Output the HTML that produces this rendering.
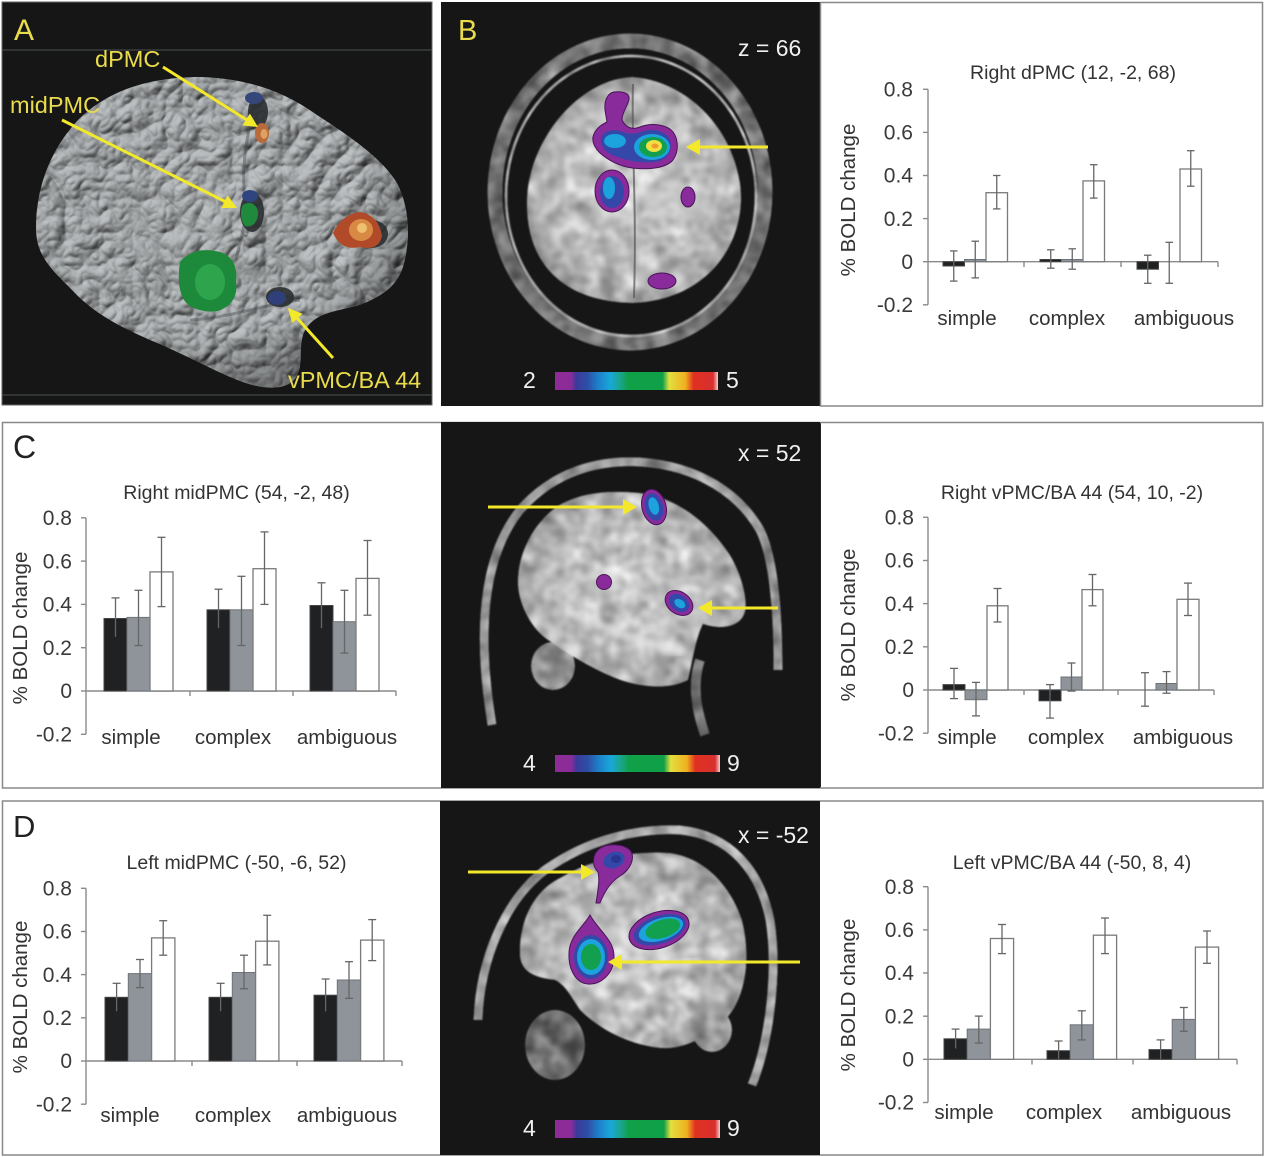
<!DOCTYPE html>
<html><head><meta charset="utf-8"><style>
html,body{margin:0;padding:0;background:#fff;}
svg{display:block;font-family:"Liberation Sans",Arial,sans-serif;}
.ax line{stroke:#8a8a8a;stroke-width:1.4;fill:none}
.eb line{stroke:#666;stroke-width:1.3}
.bk{fill:#1f2122;stroke:#444;stroke-width:1}
.gr{fill:#8e949a;stroke:#6e7378;stroke-width:1}
.wh{fill:#fff;stroke:#7a7a7a;stroke-width:1.3}
.tk{font-size:21px;fill:#3a3a3a;text-anchor:end}
.cat{font-size:20.5px;fill:#333;text-anchor:middle}
.ttl{font-size:19.5px;fill:#333;text-anchor:middle}
.yl{font-size:20.5px;fill:#333;text-anchor:middle}
.yel{fill:#e9dc4c;font-size:23.5px}
.wt{fill:#f0f0f0;font-size:23px}
.arr{stroke:#f4e82a;stroke-width:3;fill:none}
.ah{fill:#f4e82a}
.pu{fill:#8a2b9c;stroke:#4a1458;stroke-width:1}
.bl{fill:#3348a8}
.cy{fill:#1ca2dc}
.gn{fill:#12a04e}
.ye{fill:#f0e040}
.or{fill:#f09a30}
</style></head><body>
<svg width="1267" height="1157" viewBox="0 0 1267 1157">
<defs>
<linearGradient id="cb" x1="0" x2="1" y1="0" y2="0">
<stop offset="0" stop-color="#8e2b96"/><stop offset="0.1" stop-color="#8a2c98"/>
<stop offset="0.13" stop-color="#3b3a9a"/><stop offset="0.2" stop-color="#2d4fa6"/>
<stop offset="0.26" stop-color="#1f7dc8"/><stop offset="0.34" stop-color="#18a8d8"/>
<stop offset="0.4" stop-color="#19a58a"/><stop offset="0.45" stop-color="#0fa048"/>
<stop offset="0.66" stop-color="#0fa048"/><stop offset="0.7" stop-color="#e0e040"/>
<stop offset="0.8" stop-color="#f0b020"/><stop offset="0.85" stop-color="#e03020"/>
<stop offset="0.97" stop-color="#d83030"/><stop offset="1" stop-color="#f0d0d0"/>
</linearGradient>
<radialGradient id="shA" cx="0.45" cy="0.4" r="0.65">
<stop offset="0" stop-color="#fff" stop-opacity="0.08"/>
<stop offset="0.65" stop-color="#000" stop-opacity="0"/>
<stop offset="1" stop-color="#000" stop-opacity="0.4"/>
</radialGradient>
<radialGradient id="mri" cx="0.5" cy="0.5" r="0.6">
<stop offset="0" stop-color="#d0d0d0"/>
<stop offset="0.7" stop-color="#b6b6b6"/>
<stop offset="1" stop-color="#8a8a8a"/>
</radialGradient>
<filter id="fA" color-interpolation-filters="sRGB">
<feTurbulence type="turbulence" baseFrequency="0.03" numOctaves="3" seed="7" result="t"/>
<feColorMatrix in="t" type="matrix" values="0 0 0 0 0  0 0 0 0 0  0 0 0 0 0  1 0 0 0 0" result="h"/>
<feGaussianBlur in="h" stdDeviation="0.8" result="hb"/>
<feDiffuseLighting in="hb" surfaceScale="5" diffuseConstant="1" lighting-color="#c0c4c6" result="d"><feDistantLight azimuth="235" elevation="55"/></feDiffuseLighting>
<feComposite in="d" in2="SourceAlpha" operator="in"/>
</filter>
<filter id="fM" color-interpolation-filters="sRGB">
<feTurbulence type="fractalNoise" baseFrequency="0.055" numOctaves="2" seed="3" result="n"/>
<feColorMatrix in="n" type="matrix" values="0.33 0.33 0.33 0 0  0.33 0.33 0.33 0 0  0.33 0.33 0.33 0 0  0 0 0 0 1" result="g"/>
<feComposite in="SourceGraphic" in2="g" operator="arithmetic" k1="0" k2="1" k3="0.9" k4="-0.45" result="c"/>
<feComposite in="c" in2="SourceAlpha" operator="in" result="cc"/>
<feGaussianBlur in="cc" stdDeviation="0.8"/>
</filter>
<filter id="bl2"><feGaussianBlur stdDeviation="3"/></filter>
</defs>

<!-- ================= PANEL A ================= -->
<rect x="2" y="2" width="430" height="403" fill="#161616" stroke="#666" stroke-width="1"/>
<line x1="2" y1="50" x2="432" y2="50" stroke="#4a5252" stroke-width="1"/>
<line x1="2" y1="395" x2="432" y2="395" stroke="#4a5252" stroke-width="1"/>
<path d="M36,228 C36,185 52,148 78,120 C105,93 145,77 200,77 C240,78 280,88 317,115 C348,135 382,158 397,183 C411,210 410,243 403,267 C397,285 385,295 360,305 C335,312 312,312 303,335 C298,352 305,370 292,382 C278,392 255,388 230,377 C205,366 175,350 150,340 C120,327 92,312 72,290 C50,268 36,255 36,228 Z" fill="#9ea2a4" filter="url(#fA)"/>
<path d="M36,228 C36,185 52,148 78,120 C105,93 145,77 200,77 C240,78 280,88 317,115 C348,135 382,158 397,183 C411,210 410,243 403,267 C397,285 385,295 360,305 C335,312 312,312 303,335 C298,352 305,370 292,382 C278,392 255,388 230,377 C205,366 175,350 150,340 C120,327 92,312 72,290 C50,268 36,255 36,228 Z" fill="url(#shA)"/>
<g fill="none" stroke="#4a4e50" stroke-width="3" opacity="0.45">
<path d="M255,92 C250,130 240,160 245,200 C248,220 240,240 236,260"/>
<path d="M190,320 C230,318 260,305 300,300"/>
</g>
<g fill="#2a2e30" opacity="0.9">
<ellipse cx="258" cy="112" rx="10" ry="16"/>
<ellipse cx="252" cy="212" rx="12" ry="20"/>
<ellipse cx="280" cy="297" rx="14" ry="10"/>
<ellipse cx="372" cy="234" rx="16" ry="14"/>
</g>
<ellipse cx="254" cy="98" rx="9" ry="6" fill="#34467a"/>
<ellipse cx="262" cy="133" rx="7" ry="10" fill="#b86a3a"/>
<ellipse cx="264" cy="134" rx="3.5" ry="5" fill="#e0a060"/>
<ellipse cx="250" cy="196" rx="8" ry="6" fill="#2f4580"/>
<path d="M243,205 C250,200 258,205 258,213 C258,222 252,228 245,226 C240,220 240,210 243,205 Z" fill="#1f8a3c"/>
<ellipse cx="277" cy="298" rx="9" ry="7" fill="#2e3f7a"/>
<path d="M180,262 C190,250 205,248 220,252 C232,256 238,266 236,282 C238,296 232,306 218,311 C205,313 190,309 184,300 C178,290 178,275 180,262 Z" fill="#1c8a3a"/>
<ellipse cx="210" cy="282" rx="15" ry="18" fill="#36b056" opacity="0.7"/>
<path d="M333,233 C338,222 348,213 360,212 C372,214 380,222 382,236 C380,246 372,250 360,247 C350,249 340,248 333,233 Z" fill="#b04a28"/>
<ellipse cx="361" cy="230" rx="12" ry="11" fill="#d88a44"/>
<ellipse cx="362" cy="228" rx="5" ry="5" fill="#f0c070"/>
<text x="14" y="40" class="yel" style="font-size:30px">A</text>
<text x="95" y="67" class="yel">dPMC</text>
<text x="10" y="113" class="yel">midPMC</text>
<text x="288" y="388" class="yel">vPMC/BA 44</text>
<line class="arr" x1="163" y1="67" x2="247" y2="120"/>
<polygon class="ah" points="258,127 242.4,125.4 249.9,113.6"/>
<line class="arr" x1="62" y1="120" x2="226" y2="202"/>
<polygon class="ah" points="237,208 221.4,208 227.6,195.4"/>
<line class="arr" x1="333" y1="358" x2="297" y2="318"/>
<polygon class="ah" points="288,308 302.6,313.7 292.2,323.1"/>

<!-- ================= PANEL B MRI ================= -->
<rect x="441" y="2" width="379" height="404" fill="#161616"/>
<g filter="url(#fM)">
<ellipse cx="630" cy="192" rx="135" ry="151" fill="none" stroke="#747474" stroke-width="15"/>
<ellipse cx="631" cy="196" rx="125" ry="140" fill="none" stroke="#a8a8a8" stroke-width="3"/>
<path d="M633,77 C680,80 730,120 740,183 C748,240 710,300 633,303 C560,302 525,260 527,200 C528,140 580,78 633,77 Z" fill="url(#mri)"/>
</g>
<path d="M633,84 C631,140 637,200 634,298" stroke="#555" stroke-width="2" fill="none" opacity="0.7"/>
<path class="pu" d="M593,137 C595,128 603,124 607,122 L605,110 C604,100 608,93 614,92 C622,91 630,93 629,99 C628,106 622,112 622,120 C626,128 632,130 640,127 C650,123 662,124 670,129 C678,135 680,150 673,160 C666,168 650,170 632,168 C618,166 608,160 600,153 C595,148 592,143 593,137 Z"/>
<path class="bl" d="M601,138 C603,131 612,129 620,131 C628,134 634,135 644,131 C656,128 667,132 670,140 C673,150 668,160 655,162 C640,164 625,160 612,155 C604,151 600,145 601,138 Z"/>
<ellipse class="cy" cx="615" cy="141" rx="11" ry="7"/>
<ellipse class="cy" cx="652" cy="147" rx="18" ry="13"/>
<ellipse class="gn" cx="653" cy="147" rx="14" ry="10"/>
<ellipse class="ye" cx="654" cy="146" rx="8" ry="6"/>
<ellipse class="or" cx="655" cy="146" rx="3.5" ry="2.5"/>
<ellipse class="pu" cx="612" cy="191" rx="17" ry="21"/>
<ellipse class="bl" cx="612" cy="192" rx="12" ry="16"/>
<ellipse class="cy" cx="609" cy="188" rx="6" ry="11"/>
<ellipse class="pu" cx="688" cy="197" rx="7" ry="10"/>
<ellipse class="pu" cx="662" cy="281" rx="14" ry="8"/>
<line class="arr" x1="768" y1="147" x2="698" y2="147"/>
<polygon class="ah" points="686,147 700,139 700,155"/>
<text x="458" y="40" class="yel" style="font-size:29px">B</text>
<text x="738" y="56" class="wt">z = 66</text>
<text x="523" y="388" class="wt">2</text>
<rect x="555" y="372" width="163" height="18" fill="url(#cb)"/>
<text x="726" y="388" class="wt">5</text>

<!-- ================= CHART B RIGHT ================= -->
<rect x="820.5" y="2.5" width="442" height="403.5" fill="#fff" stroke="#888" stroke-width="1.5"/>
<text class="ttl" x="1073" y="79">Right dPMC (12, -2, 68)</text>
<g class="ax">
<line x1="928" y1="89.3" x2="928" y2="304.8"/>
<line x1="923" y1="89.3" x2="928" y2="89.3"/><line x1="923" y1="132.4" x2="928" y2="132.4"/><line x1="923" y1="175.5" x2="928" y2="175.5"/><line x1="923" y1="218.6" x2="928" y2="218.6"/><line x1="923" y1="261.7" x2="928" y2="261.7"/><line x1="923" y1="304.8" x2="928" y2="304.8"/>
<line x1="928" y1="261.7" x2="1218" y2="261.7"/>
<line x1="1024" y1="261.7" x2="1024" y2="267"/><line x1="1121" y1="261.7" x2="1121" y2="267"/><line x1="1218" y1="261.7" x2="1218" y2="267"/>
</g>
<rect class="bk" x="943" y="261.7" width="21.5" height="4.3"/>
<rect class="gr" x="964.5" y="259.5" width="21.5" height="2.2"/>
<rect class="wh" x="986" y="192.7" width="21.5" height="69"/>
<rect class="bk" x="1040" y="259.5" width="21.5" height="2.2"/>
<rect class="gr" x="1061.5" y="259.5" width="21.5" height="2.2"/>
<rect class="wh" x="1083" y="180.9" width="21.5" height="80.8"/>
<rect class="bk" x="1137" y="261.7" width="21.5" height="7.5"/>
<rect class="wh" x="1180" y="169" width="21.5" height="92.7"/>
<g class="eb">
<line x1="953.75" y1="250.9" x2="953.75" y2="281.1"/><line x1="950" y1="250.9" x2="957.5" y2="250.9"/><line x1="950" y1="281.1" x2="957.5" y2="281.1"/>
<line x1="975.25" y1="241.2" x2="975.25" y2="277.9"/><line x1="971.5" y1="241.2" x2="979" y2="241.2"/><line x1="971.5" y1="277.9" x2="979" y2="277.9"/>
<line x1="996.75" y1="175.5" x2="996.75" y2="208.9"/><line x1="993" y1="175.5" x2="1000.5" y2="175.5"/><line x1="993" y1="208.9" x2="1000.5" y2="208.9"/>
<line x1="1050.75" y1="249.8" x2="1050.75" y2="268.2"/><line x1="1047" y1="249.8" x2="1054.5" y2="249.8"/><line x1="1047" y1="268.2" x2="1054.5" y2="268.2"/>
<line x1="1072.25" y1="248.8" x2="1072.25" y2="269.2"/><line x1="1068.5" y1="248.8" x2="1076" y2="248.8"/><line x1="1068.5" y1="269.2" x2="1076" y2="269.2"/>
<line x1="1093.75" y1="164.7" x2="1093.75" y2="198.1"/><line x1="1090" y1="164.7" x2="1097.5" y2="164.7"/><line x1="1090" y1="198.1" x2="1097.5" y2="198.1"/>
<line x1="1147.75" y1="255.2" x2="1147.75" y2="283.3"/><line x1="1144" y1="255.2" x2="1151.5" y2="255.2"/><line x1="1144" y1="283.3" x2="1151.5" y2="283.3"/>
<line x1="1169.25" y1="242.3" x2="1169.25" y2="283.3"/><line x1="1165.5" y1="242.3" x2="1173" y2="242.3"/><line x1="1165.5" y1="283.3" x2="1173" y2="283.3"/>
<line x1="1190.75" y1="150.7" x2="1190.75" y2="186.2"/><line x1="1187" y1="150.7" x2="1194.5" y2="150.7"/><line x1="1187" y1="186.2" x2="1194.5" y2="186.2"/>
</g>
<text class="tk" x="913" y="96.5">0.8</text><text class="tk" x="913" y="139.6">0.6</text><text class="tk" x="913" y="182.7">0.4</text><text class="tk" x="913" y="225.8">0.2</text><text class="tk" x="913" y="268.9">0</text><text class="tk" x="913" y="312">-0.2</text>
<text class="yl" transform="translate(855,200) rotate(-90)">% BOLD change</text>
<text class="cat" x="967" y="325">simple</text><text class="cat" x="1067" y="325">complex</text><text class="cat" x="1184" y="325">ambiguous</text>

<!-- ================= ROW C ================= -->
<rect x="2.5" y="422.5" width="1260.5" height="365.5" fill="#fff" stroke="#888" stroke-width="1.5"/>
<text x="13" y="458" style="font-size:32px;fill:#222">C</text>
<text class="ttl" x="236.5" y="499">Right midPMC (54, -2, 48)</text>
<g class="ax">
<line x1="86" y1="517.8" x2="86" y2="734.3"/>
<line x1="81" y1="517.8" x2="86" y2="517.8"/><line x1="81" y1="561.1" x2="86" y2="561.1"/><line x1="81" y1="604.4" x2="86" y2="604.4"/><line x1="81" y1="647.7" x2="86" y2="647.7"/><line x1="81" y1="691" x2="86" y2="691"/><line x1="81" y1="734.3" x2="86" y2="734.3"/>
<line x1="86" y1="691" x2="396" y2="691"/>
<line x1="190" y1="691" x2="190" y2="696"/><line x1="293" y1="691" x2="293" y2="696"/><line x1="396" y1="691" x2="396" y2="696"/>
</g>
<rect class="bk" x="104" y="618.5" width="23" height="72.5"/>
<rect class="gr" x="127" y="617.4" width="23" height="73.6"/>
<rect class="wh" x="150" y="571.9" width="23" height="119.1"/>
<rect class="bk" x="207" y="609.8" width="23" height="81.2"/>
<rect class="gr" x="230" y="609.8" width="23" height="81.2"/>
<rect class="wh" x="253" y="568.7" width="23" height="122.3"/>
<rect class="bk" x="310" y="605.5" width="23" height="85.5"/>
<rect class="gr" x="333" y="621.7" width="23" height="69.3"/>
<rect class="wh" x="356" y="578.4" width="23" height="112.6"/>
<g class="eb">
<line x1="115.5" y1="597.9" x2="115.5" y2="636.9"/><line x1="111.5" y1="597.9" x2="119.5" y2="597.9"/>
<line x1="138.5" y1="590.3" x2="138.5" y2="645.5"/><line x1="134.5" y1="590.3" x2="142.5" y2="590.3"/><line x1="134.5" y1="645.5" x2="142.5" y2="645.5"/>
<line x1="161.5" y1="537.3" x2="161.5" y2="606.6"/><line x1="157.5" y1="537.3" x2="165.5" y2="537.3"/><line x1="157.5" y1="606.6" x2="165.5" y2="606.6"/>
<line x1="218.5" y1="589.2" x2="218.5" y2="628.2"/><line x1="214.5" y1="589.2" x2="222.5" y2="589.2"/>
<line x1="241.5" y1="576.3" x2="241.5" y2="645.5"/><line x1="237.5" y1="576.3" x2="245.5" y2="576.3"/><line x1="237.5" y1="645.5" x2="245.5" y2="645.5"/>
<line x1="264.5" y1="531.9" x2="264.5" y2="604.4"/><line x1="260.5" y1="531.9" x2="268.5" y2="531.9"/><line x1="260.5" y1="604.4" x2="268.5" y2="604.4"/>
<line x1="321.5" y1="582.8" x2="321.5" y2="628.2"/><line x1="317.5" y1="582.8" x2="325.5" y2="582.8"/>
<line x1="344.5" y1="590.3" x2="344.5" y2="653.1"/><line x1="340.5" y1="590.3" x2="348.5" y2="590.3"/><line x1="340.5" y1="653.1" x2="348.5" y2="653.1"/>
<line x1="367.5" y1="540.5" x2="367.5" y2="615.2"/><line x1="363.5" y1="540.5" x2="371.5" y2="540.5"/><line x1="363.5" y1="615.2" x2="371.5" y2="615.2"/>
</g>
<text class="tk" x="72" y="525">0.8</text><text class="tk" x="72" y="568.3">0.6</text><text class="tk" x="72" y="611.6">0.4</text><text class="tk" x="72" y="654.9">0.2</text><text class="tk" x="72" y="698.2">0</text><text class="tk" x="72" y="741.5">-0.2</text>
<text class="yl" transform="translate(27,628) rotate(-90)">% BOLD change</text>
<text class="cat" x="131" y="744">simple</text><text class="cat" x="233" y="744">complex</text><text class="cat" x="347" y="744">ambiguous</text>

<!-- C middle MRI -->
<rect x="441" y="422" width="379" height="366" fill="#161616"/>
<g filter="url(#fM)">
<path d="M492,725 C478,640 480,560 520,510 C555,470 600,460 640,462 C700,466 740,495 760,530 C775,560 778,620 778,670" fill="none" stroke="#9a9a9a" stroke-width="9"/>
<ellipse cx="553" cy="666" rx="22" ry="24" fill="#8a8a8a"/>
<path d="M518,577 C520,545 540,515 563,503 C585,492 610,490 640,493 C680,498 710,525 730,555 C742,575 748,600 745,612 C740,628 720,630 703,624 C695,640 692,665 688,680 C670,690 640,688 615,678 C590,668 565,652 548,640 C530,628 516,600 518,577 Z" fill="url(#mri)"/>
<path d="M700,660 C690,690 700,720 705,735" stroke="#6a6a6a" stroke-width="10" fill="none"/>
</g>
<path d="M575,615 C610,630 650,645 685,652" stroke="#e8e8e8" stroke-width="8" fill="none" opacity="0.6" filter="url(#bl2)"/>
<g transform="rotate(-15 654 507)">
<ellipse class="pu" cx="654" cy="507" rx="12" ry="18"/>
<ellipse class="bl" cx="654" cy="507" rx="9" ry="14"/>
<ellipse class="cy" cx="654" cy="506" rx="5" ry="9"/>
</g>
<circle class="pu" cx="604" cy="582" r="7.5"/>
<g transform="rotate(35 679 603)">
<ellipse class="pu" cx="679" cy="603" rx="15" ry="11"/>
<ellipse class="bl" cx="679" cy="603" rx="11" ry="8"/>
<ellipse class="cy" cx="680" cy="603" rx="6" ry="4"/>
</g>
<line class="arr" x1="488" y1="507" x2="625" y2="507"/>
<polygon class="ah" points="637,507 623,499 623,515"/>
<line class="arr" x1="778" y1="608" x2="710" y2="608"/>
<polygon class="ah" points="698,608 712,600 712,616"/>
<text x="738" y="461" class="wt">x = 52</text>
<text x="523" y="771" class="wt">4</text>
<rect x="555" y="755" width="165" height="17" fill="url(#cb)"/>
<text x="727" y="771" class="wt">9</text>

<!-- C right chart -->
<rect x="820" y="423.2" width="1" height="364" fill="#222"/>
<text class="ttl" x="1072" y="499">Right vPMC/BA 44 (54, 10, -2)</text>
<g class="ax">
<line x1="928" y1="517.3" x2="928" y2="733.2"/>
<line x1="923" y1="517.3" x2="928" y2="517.3"/><line x1="923" y1="560.5" x2="928" y2="560.5"/><line x1="923" y1="603.6" x2="928" y2="603.6"/><line x1="923" y1="646.8" x2="928" y2="646.8"/><line x1="923" y1="690" x2="928" y2="690"/><line x1="923" y1="733.2" x2="928" y2="733.2"/>
<line x1="928" y1="690" x2="1214" y2="690"/>
<line x1="1024" y1="690" x2="1024" y2="695"/><line x1="1118" y1="690" x2="1118" y2="695"/><line x1="1214" y1="690" x2="1214" y2="695"/>
</g>
<rect class="bk" x="943" y="684.6" width="22" height="5.4"/>
<rect class="gr" x="965" y="690" width="22" height="9.7"/>
<rect class="wh" x="987" y="605.8" width="21" height="84.2"/>
<rect class="bk" x="1039" y="690" width="22" height="10.8"/>
<rect class="gr" x="1061" y="677" width="21" height="13"/>
<rect class="wh" x="1082" y="589.6" width="21" height="100.4"/>
<rect class="gr" x="1156" y="683.5" width="21" height="6.5"/>
<rect class="wh" x="1177" y="599.3" width="22" height="90.7"/>
<g class="eb">
<line x1="954" y1="668.4" x2="954" y2="698.6"/><line x1="950" y1="668.4" x2="958" y2="668.4"/><line x1="950" y1="698.6" x2="958" y2="698.6"/>
<line x1="976" y1="682.4" x2="976" y2="715.9"/><line x1="972" y1="682.4" x2="980" y2="682.4"/><line x1="972" y1="715.9" x2="980" y2="715.9"/>
<line x1="997.5" y1="588.5" x2="997.5" y2="622"/><line x1="993.5" y1="588.5" x2="1001.5" y2="588.5"/><line x1="993.5" y1="622" x2="1001.5" y2="622"/>
<line x1="1050" y1="684.6" x2="1050" y2="718.1"/><line x1="1046" y1="684.6" x2="1054" y2="684.6"/><line x1="1046" y1="718.1" x2="1054" y2="718.1"/>
<line x1="1071.5" y1="663" x2="1071.5" y2="691.1"/><line x1="1067.5" y1="663" x2="1075.5" y2="663"/><line x1="1067.5" y1="691.1" x2="1075.5" y2="691.1"/>
<line x1="1092.5" y1="574.5" x2="1092.5" y2="605.8"/><line x1="1088.5" y1="574.5" x2="1096.5" y2="574.5"/><line x1="1088.5" y1="605.8" x2="1096.5" y2="605.8"/>
<line x1="1145" y1="672.7" x2="1145" y2="706.2"/><line x1="1141" y1="672.7" x2="1149" y2="672.7"/><line x1="1141" y1="706.2" x2="1149" y2="706.2"/>
<line x1="1166.5" y1="671.6" x2="1166.5" y2="693.2"/><line x1="1162.5" y1="671.6" x2="1170.5" y2="671.6"/><line x1="1162.5" y1="693.2" x2="1170.5" y2="693.2"/>
<line x1="1188" y1="583.1" x2="1188" y2="615.5"/><line x1="1184" y1="583.1" x2="1192" y2="583.1"/><line x1="1184" y1="615.5" x2="1192" y2="615.5"/>
</g>
<text class="tk" x="914" y="524.5">0.8</text><text class="tk" x="914" y="567.7">0.6</text><text class="tk" x="914" y="610.8">0.4</text><text class="tk" x="914" y="654">0.2</text><text class="tk" x="914" y="697.2">0</text><text class="tk" x="914" y="740.4">-0.2</text>
<text class="yl" transform="translate(855,625) rotate(-90)">% BOLD change</text>
<text class="cat" x="967" y="744">simple</text><text class="cat" x="1066" y="744">complex</text><text class="cat" x="1183" y="744">ambiguous</text>

<!-- ================= ROW D ================= -->
<rect x="2.5" y="801" width="1260.5" height="354" fill="#fff" stroke="#888" stroke-width="1.5"/>
<text x="13" y="837" style="font-size:31px;fill:#222">D</text>
<text class="ttl" x="236.5" y="869">Left midPMC (-50, -6, 52)</text>
<g class="ax">
<line x1="86" y1="888.3" x2="86" y2="1104.2"/>
<line x1="81" y1="888.3" x2="86" y2="888.3"/><line x1="81" y1="931.5" x2="86" y2="931.5"/><line x1="81" y1="974.6" x2="86" y2="974.6"/><line x1="81" y1="1017.8" x2="86" y2="1017.8"/><line x1="81" y1="1061" x2="86" y2="1061"/><line x1="81" y1="1104.2" x2="86" y2="1104.2"/>
<line x1="86" y1="1061" x2="402" y2="1061"/>
<line x1="192" y1="1061" x2="192" y2="1066"/><line x1="297" y1="1061" x2="297" y2="1066"/><line x1="402" y1="1061" x2="402" y2="1066"/>
</g>
<rect class="bk" x="105" y="997.3" width="23.3" height="63.7"/>
<rect class="gr" x="128.3" y="973.6" width="23.3" height="87.4"/>
<rect class="wh" x="151.6" y="937.9" width="23.3" height="123.1"/>
<rect class="bk" x="209" y="997.3" width="23.3" height="63.7"/>
<rect class="gr" x="232.3" y="972.5" width="23.3" height="88.5"/>
<rect class="wh" x="255.6" y="941.2" width="23.3" height="119.8"/>
<rect class="bk" x="314" y="995.2" width="23.3" height="65.8"/>
<rect class="gr" x="337.3" y="980" width="23.3" height="81"/>
<rect class="wh" x="360.6" y="940.1" width="23.3" height="120.9"/>
<g class="eb">
<line x1="116.6" y1="983.3" x2="116.6" y2="1011.3"/><line x1="112.6" y1="983.3" x2="120.6" y2="983.3"/>
<line x1="140" y1="959.5" x2="140" y2="987.6"/><line x1="136" y1="959.5" x2="144" y2="959.5"/><line x1="136" y1="987.6" x2="144" y2="987.6"/>
<line x1="163.2" y1="920.7" x2="163.2" y2="955.2"/><line x1="159.2" y1="920.7" x2="167.2" y2="920.7"/><line x1="159.2" y1="955.2" x2="167.2" y2="955.2"/>
<line x1="220.6" y1="983.3" x2="220.6" y2="1011.3"/><line x1="216.6" y1="983.3" x2="224.6" y2="983.3"/>
<line x1="244" y1="955.2" x2="244" y2="988.7"/><line x1="240" y1="955.2" x2="248" y2="955.2"/><line x1="240" y1="988.7" x2="248" y2="988.7"/>
<line x1="267.2" y1="915.3" x2="267.2" y2="964.9"/><line x1="263.2" y1="915.3" x2="271.2" y2="915.3"/><line x1="263.2" y1="964.9" x2="271.2" y2="964.9"/>
<line x1="325.6" y1="979" x2="325.6" y2="1011.4"/><line x1="321.6" y1="979" x2="329.6" y2="979"/>
<line x1="349" y1="961.7" x2="349" y2="998.4"/><line x1="345" y1="961.7" x2="353" y2="961.7"/><line x1="345" y1="998.4" x2="353" y2="998.4"/>
<line x1="372.2" y1="919.6" x2="372.2" y2="960.6"/><line x1="368.2" y1="919.6" x2="376.2" y2="919.6"/><line x1="368.2" y1="960.6" x2="376.2" y2="960.6"/>
</g>
<text class="tk" x="72" y="895.5">0.8</text><text class="tk" x="72" y="938.7">0.6</text><text class="tk" x="72" y="981.8">0.4</text><text class="tk" x="72" y="1025">0.2</text><text class="tk" x="72" y="1068.2">0</text><text class="tk" x="72" y="1111.4">-0.2</text>
<text class="yl" transform="translate(27,997) rotate(-90)">% BOLD change</text>
<text class="cat" x="130" y="1122">simple</text><text class="cat" x="233" y="1122">complex</text><text class="cat" x="347" y="1122">ambiguous</text>

<!-- D middle MRI -->
<rect x="440" y="801" width="380" height="354" fill="#161616"/>
<g filter="url(#fM)">
<path d="M478,1020 C480,960 505,900 545,870 C590,838 640,828 680,830 C730,835 760,870 770,920 C778,970 770,1040 752,1085" fill="none" stroke="#a4a4a4" stroke-width="9"/>
<ellipse cx="555" cy="1045" rx="30" ry="35" fill="#6e6e6e"/>
<ellipse cx="712" cy="1030" rx="20" ry="22" fill="#9a9a9a"/>
<path d="M520,957 C518,920 535,890 560,878 C590,860 630,850 670,853 C705,858 730,885 742,920 C752,960 745,1000 725,1020 C705,1040 680,1050 660,1048 C630,1045 600,1030 580,1010 C570,995 565,985 555,980 C535,978 522,972 520,957 Z" fill="url(#mri)"/>
</g>
<path d="M585,985 C620,975 660,965 700,960" stroke="#e8e8e8" stroke-width="8" fill="none" opacity="0.5" filter="url(#bl2)"/>
<path class="pu" d="M598,850 C605,843 622,843 630,850 C636,858 630,870 620,876 C612,881 605,890 600,903 L596,903 C598,890 600,880 598,872 C592,866 592,856 598,850 Z"/>
<ellipse class="bl" cx="614" cy="860" rx="11" ry="8" transform="rotate(-20 614 860)"/>
<ellipse cx="616" cy="859" rx="5" ry="4" fill="#2a3590"/>
<path class="pu" d="M590,915 C598,930 615,940 614,958 C613,975 600,985 588,984 C575,983 568,968 569,952 C570,935 585,925 590,915 Z"/>
<ellipse class="bl" cx="591" cy="957" rx="17" ry="22"/>
<ellipse class="cy" cx="591" cy="957" rx="14" ry="18"/>
<ellipse class="gn" cx="591" cy="957" rx="10" ry="13"/>
<g transform="rotate(-18 659 930)">
<ellipse class="pu" cx="659" cy="930" rx="31" ry="18"/>
<ellipse class="bl" cx="660" cy="930" rx="27" ry="14"/>
<ellipse class="cy" cx="661" cy="930" rx="23" ry="11"/>
<ellipse class="gn" cx="663" cy="930" rx="18" ry="9"/>
</g>
<line class="arr" x1="468" y1="872" x2="583" y2="872"/>
<polygon class="ah" points="595,872 581,864 581,880"/>
<line class="arr" x1="800" y1="962" x2="620" y2="962"/>
<polygon class="ah" points="608,962 622,954 622,970"/>
<text x="738" y="843" class="wt">x = -52</text>
<text x="523" y="1136" class="wt">4</text>
<rect x="555" y="1120" width="165" height="18" fill="url(#cb)"/>
<text x="727" y="1136" class="wt">9</text>

<!-- D right chart -->
<text class="ttl" x="1072" y="869">Left vPMC/BA 44 (-50, 8, 4)</text>
<g class="ax">
<line x1="928" y1="886.7" x2="928" y2="1102.5"/>
<line x1="923" y1="886.7" x2="928" y2="886.7"/><line x1="923" y1="929.9" x2="928" y2="929.9"/><line x1="923" y1="973" x2="928" y2="973"/><line x1="923" y1="1016.2" x2="928" y2="1016.2"/><line x1="923" y1="1059.3" x2="928" y2="1059.3"/><line x1="923" y1="1102.5" x2="928" y2="1102.5"/>
<line x1="928" y1="1059.3" x2="1237" y2="1059.3"/>
<line x1="1032" y1="1059.3" x2="1032" y2="1064.5"/><line x1="1133" y1="1059.3" x2="1133" y2="1064.5"/><line x1="1237" y1="1059.3" x2="1237" y2="1064.5"/>
</g>
<rect class="bk" x="944" y="1038.8" width="23.2" height="20.5"/>
<rect class="gr" x="967.2" y="1029.1" width="23.2" height="30.2"/>
<rect class="wh" x="990.4" y="938.5" width="23.2" height="120.8"/>
<rect class="bk" x="1047" y="1050.7" width="23.2" height="8.6"/>
<rect class="gr" x="1070.2" y="1024.8" width="23.2" height="34.5"/>
<rect class="wh" x="1093.4" y="935.2" width="23.2" height="124.1"/>
<rect class="bk" x="1149" y="1049.6" width="23.2" height="9.7"/>
<rect class="gr" x="1172.2" y="1019.4" width="23.2" height="39.9"/>
<rect class="wh" x="1195.4" y="947.1" width="23.2" height="112.2"/>
<g class="eb">
<line x1="955.6" y1="1029.1" x2="955.6" y2="1048.5"/><line x1="951.6" y1="1029.1" x2="959.6" y2="1029.1"/>
<line x1="978.8" y1="1016.1" x2="978.8" y2="1043.1"/><line x1="974.8" y1="1016.1" x2="982.8" y2="1016.1"/><line x1="974.8" y1="1043.1" x2="982.8" y2="1043.1"/>
<line x1="1002" y1="924.5" x2="1002" y2="953.6"/><line x1="998" y1="924.5" x2="1006" y2="924.5"/><line x1="998" y1="953.6" x2="1006" y2="953.6"/>
<line x1="1058.6" y1="1041" x2="1058.6" y2="1059"/><line x1="1054.6" y1="1041" x2="1062.6" y2="1041"/>
<line x1="1081.8" y1="1010.8" x2="1081.8" y2="1039.9"/><line x1="1077.8" y1="1010.8" x2="1085.8" y2="1010.8"/><line x1="1077.8" y1="1039.9" x2="1085.8" y2="1039.9"/>
<line x1="1105" y1="918" x2="1105" y2="953.6"/><line x1="1101" y1="918" x2="1109" y2="918"/><line x1="1101" y1="953.6" x2="1109" y2="953.6"/>
<line x1="1160.6" y1="1039.9" x2="1160.6" y2="1059"/><line x1="1156.6" y1="1039.9" x2="1164.6" y2="1039.9"/>
<line x1="1183.8" y1="1007.5" x2="1183.8" y2="1031.3"/><line x1="1179.8" y1="1007.5" x2="1187.8" y2="1007.5"/><line x1="1179.8" y1="1031.3" x2="1187.8" y2="1031.3"/>
<line x1="1207" y1="931" x2="1207" y2="963.3"/><line x1="1203" y1="931" x2="1211" y2="931"/><line x1="1203" y1="963.3" x2="1211" y2="963.3"/>
</g>
<text class="tk" x="914" y="893.9">0.8</text><text class="tk" x="914" y="937.1">0.6</text><text class="tk" x="914" y="980.2">0.4</text><text class="tk" x="914" y="1023.4">0.2</text><text class="tk" x="914" y="1066.5">0</text><text class="tk" x="914" y="1109.7">-0.2</text>
<text class="yl" transform="translate(855,995) rotate(-90)">% BOLD change</text>
<text class="cat" x="964" y="1119">simple</text><text class="cat" x="1064" y="1119">complex</text><text class="cat" x="1181" y="1119">ambiguous</text>
</svg>
</body></html>
